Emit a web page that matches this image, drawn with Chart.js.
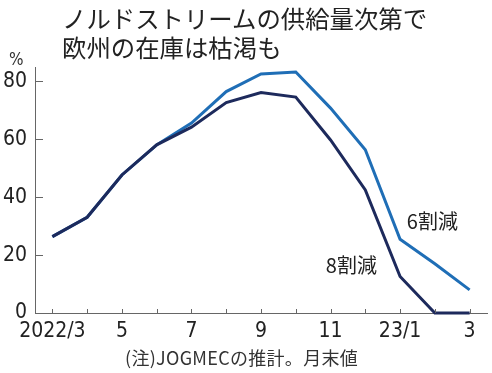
<!DOCTYPE html>
<html lang="ja">
<head>
<meta charset="utf-8">
<script src="https://cdn.jsdelivr.net/npm/chart.js@4/dist/chart.umd.min.js"></script>
<style>
  body { margin: 0; background: #fff; }
  #wrap { position: relative; width: 492px; height: 373px; overflow: hidden; }
  #chart { position: absolute; left: 0; top: 0; }
  #title { position: absolute; left: 62px; top: 3px; font: 24.4px/29px "Noto Sans CJK JP", sans-serif; color: #222; white-space: nowrap; }
  #unit { position: absolute; left: 9px; top: 49px; font: 17px/20px "Liberation Sans Narrow", "DejaVu Sans Condensed", sans-serif; color: #333; }
  #note { position: absolute; left: 125px; top: 346px; font: 18px/22px "Noto Sans CJK JP", sans-serif; letter-spacing: 0.3px; color: #333; white-space: nowrap; }
</style>
</head>
<body>
<div id="wrap">
  <canvas id="chart" width="492" height="373"></canvas>
  <div id="title">ノルドストリームの供給量次第で<br>欧州の在庫は枯渇も</div>
  <div id="unit">%</div>
  <div id="note">(注)JOGMECの推計。月末値</div>
</div>
<script>
// 月末の在庫率(%) - 図から読み取り
const months = ['2022/3', '4', '5', '6', '7', '8', '9', '10', '11', '12', '23/1', '2', '3'];
const shownMonths = ['2022/3', '5', '7', '9', '11', '23/1', '3'];
const cut60 = [26.4, 33.1, 47.7, 58.1, 65.6, 76.5, 82.6, 83.3, 70.8, 56.4, 25.5, 17.0, 8.0];
const cut80 = [26.4, 33.1, 47.7, 58.1, 64.2, 72.7, 76.2, 74.6, 59.8, 42.5, 12.6, 0, 0];
const yTicks = [0, 20, 40, 60, 80];
const seriesNames = ['6割減', '8割減'];

const tickFont = { family: '"Liberation Sans Narrow", "DejaVu Sans Condensed", sans-serif', size: 21 };

// 内向きの目盛りと系列ラベル
const decorPlugin = {
    id: 'decor',
    afterDraw(chart, args, opts) {
        const ctx = chart.ctx;
        const x = chart.scales.x;
        const y = chart.scales.y;
        ctx.save();
        ctx.strokeStyle = '#666';
        ctx.lineWidth = 1;
        ctx.beginPath();
        x.ticks.forEach((t, i) => {
            const px = Math.round(x.getPixelForTick(i)) + 0.5;
            ctx.moveTo(px, y.bottom);
            ctx.lineTo(px, y.bottom - 4);
        });
        y.ticks.forEach((t, i) => {
            const py = Math.round(y.getPixelForTick(i)) + 0.5;
            ctx.moveTo(x.left, py);
            ctx.lineTo(x.left + 8, py);
        });
        ctx.stroke();

        ctx.fillStyle = '#222';
        ctx.font = '20px "Noto Sans CJK JP", sans-serif';
        ctx.textAlign = 'center';
        ctx.textBaseline = 'middle';
        opts.labels.forEach(l => {
            ctx.fillText(l.text, x.getPixelForValue(l.at), y.getPixelForValue(l.value));
        });
        ctx.restore();
    }
};

new Chart(document.getElementById('chart'), {
    type: 'line',
    data: {
        labels: months,
        datasets: [
            {
                label: seriesNames[1],
                data: cut80,
                borderColor: '#1d2a5c',
                borderWidth: 3,
                pointRadius: 0,
                tension: 0,
                clip: false,
                order: 0
            },
            {
                label: seriesNames[0],
                data: cut60,
                borderColor: '#1f6eb6',
                borderWidth: 3,
                pointRadius: 0,
                tension: 0,
                clip: false,
                order: 1
            }
        ]
    },
    options: {
        responsive: false,
        devicePixelRatio: 1,
        animation: false,
        layout: { padding: { top: 67, right: 5, left: 0, bottom: 0 } },
        plugins: {
            legend: { display: false },
            tooltip: { enabled: false },
            decor: {
                labels: [
                    { text: seriesNames[0], at: 10.93, value: 31.5 },
                    { text: seriesNames[1], at: 8.6, value: 16.6 }
                ]
            }
        },
        scales: {
            x: {
                offset: true,
                grid: { display: true, drawOnChartArea: false, drawTicks: false, offset: false },
                border: { display: true, color: '#666', width: 1 },
                ticks: {
                    color: '#222',
                    font: tickFont,
                    padding: 6,
                    autoSkip: false,
                    maxRotation: 0,
                    callback: function(value, index) {
                        const label = months[index];
                        return shownMonths.includes(label) ? label : '';
                    }
                },
                afterFit: function(scale) { scale.height = 60; }
            },
            y: {
                min: 0,
                max: 85,
                grid: { display: true, drawOnChartArea: false, drawTicks: false },
                border: { display: true, color: '#666', width: 1 },
                afterBuildTicks: function(scale) {
                    scale.ticks = yTicks.map(v => ({ value: v }));
                },
                ticks: {
                    color: '#222',
                    font: tickFont,
                    padding: 8
                },
                afterFit: function(scale) { scale.width = 35; }
            }
        }
    },
    plugins: [decorPlugin]
});
</script>
</body>
</html>
